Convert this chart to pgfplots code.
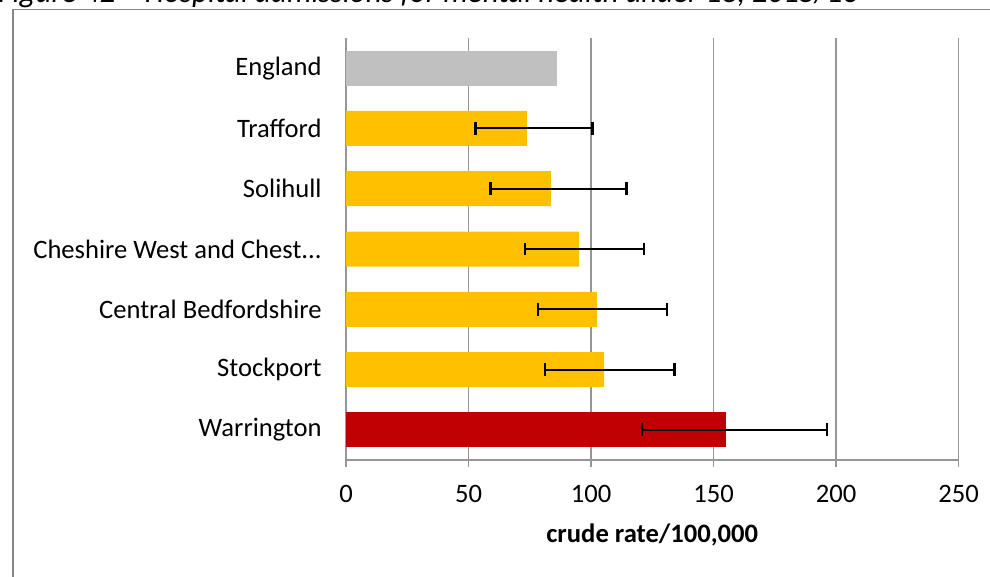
\documentclass[border=0pt]{standalone}
\usepackage{pgfplots}
\pgfplotsset{compat=1.18}
\usepackage{fontspec}
\setmainfont{Carlito}

\definecolor{barGrey}{RGB}{192,192,192}
\definecolor{barAmber}{RGB}{255,192,0}
\definecolor{barRed}{RGB}{192,0,0}
\definecolor{gridGrey}{RGB}{150,150,150}
\definecolor{frameGrey}{RGB}{134,134,134}

% rate, lower and upper confidence limits
% pos: 6 = top row (England) ... 0 = bottom row (Warrington)
\begin{document}
\begin{tikzpicture}
  \path[use as bounding box] (0pt,0pt) rectangle (495pt,-288.5pt);
  \clip (0pt,0pt) rectangle (495pt,-288.5pt);

  % title, mostly cut off by the top edge
  \node[anchor=base west, inner sep=0pt, font=\fontsize{15.5}{18}\selectfont\itshape]
    at (-1pt,-1.5pt) {Figure 42 -- Hospital admissions for mental health under 18, 2015/16};
  % chart frame
  \draw[frameGrey, line width=0.75pt] (6.5pt,-600pt) -- (6.5pt,-4.75pt) -- (600pt,-4.75pt);

  \begin{axis}[
      at={(173pt,-230pt)}, anchor=south west,
      scale only axis,
      width=306.25pt, height=211pt,
      xbar, bar width=17.5pt, bar shift=0pt,
      xmin=0, xmax=250,
      ymin=-0.5, ymax=6.5,
      xtick={0,50,...,250},
      ytick={0,...,6},
      yticklabels={Warrington,Stockport,Central Bedfordshire,{Cheshire West and Chest.{}.{}.},Solihull,Trafford,England},
      axis x line*=bottom,
      axis y line*=left,
      axis line style={gridGrey, line width=0.8pt},
      xmajorgrids,
      major grid style={gridGrey, line width=0.8pt},
      tick align=outside,
      major tick length=3.5pt,
      x tick style={gridGrey, line width=0.8pt},
      y tick style={draw=none},
      tick label style={font=\fontsize{13.3}{16}\selectfont},
      /pgf/number format/assume math mode=true,
      xticklabel style={inner sep=0pt, yshift=-9pt},
      yticklabel style={inner sep=0pt, xshift=-8.5pt},
      xlabel={\textbf{crude rate/100,000}},
      xlabel style={font=\fontsize{13.3}{16}\selectfont, at={(axis description cs:0.5,0)}, anchor=center, yshift=-37.5pt},
      error bars/error bar style={black, line width=1pt},
      error bars/error mark=|,
      error bars/error mark options={black, line width=1.2pt, mark size=3.2pt},
    ]
    \addplot[draw=none, fill=barGrey] table[x=val, y=pos] {
      pos val
      6   86.2
    };
    \addplot[draw=none, fill=barAmber,
      error bars/.cd, x dir=both, x explicit]
      table[x=val, y=pos, x error plus=ep, x error minus=em] {
      pos val   ep   em
      5   73.8  26.8 21.0
      4   83.6  30.9 24.6
      3   95.2  26.5 22.1
      2   102.5 28.6 24.1
      1   105.4 28.6 24.2
    };
    \addplot[draw=none, fill=barRed,
      error bars/.cd, x dir=both, x explicit]
      table[x=val, y=pos, x error plus=ep, x error minus=em] {
      pos val   ep   em
      0   155.2 41.2 34.4
    };
  \end{axis}
\end{tikzpicture}
\end{document}
